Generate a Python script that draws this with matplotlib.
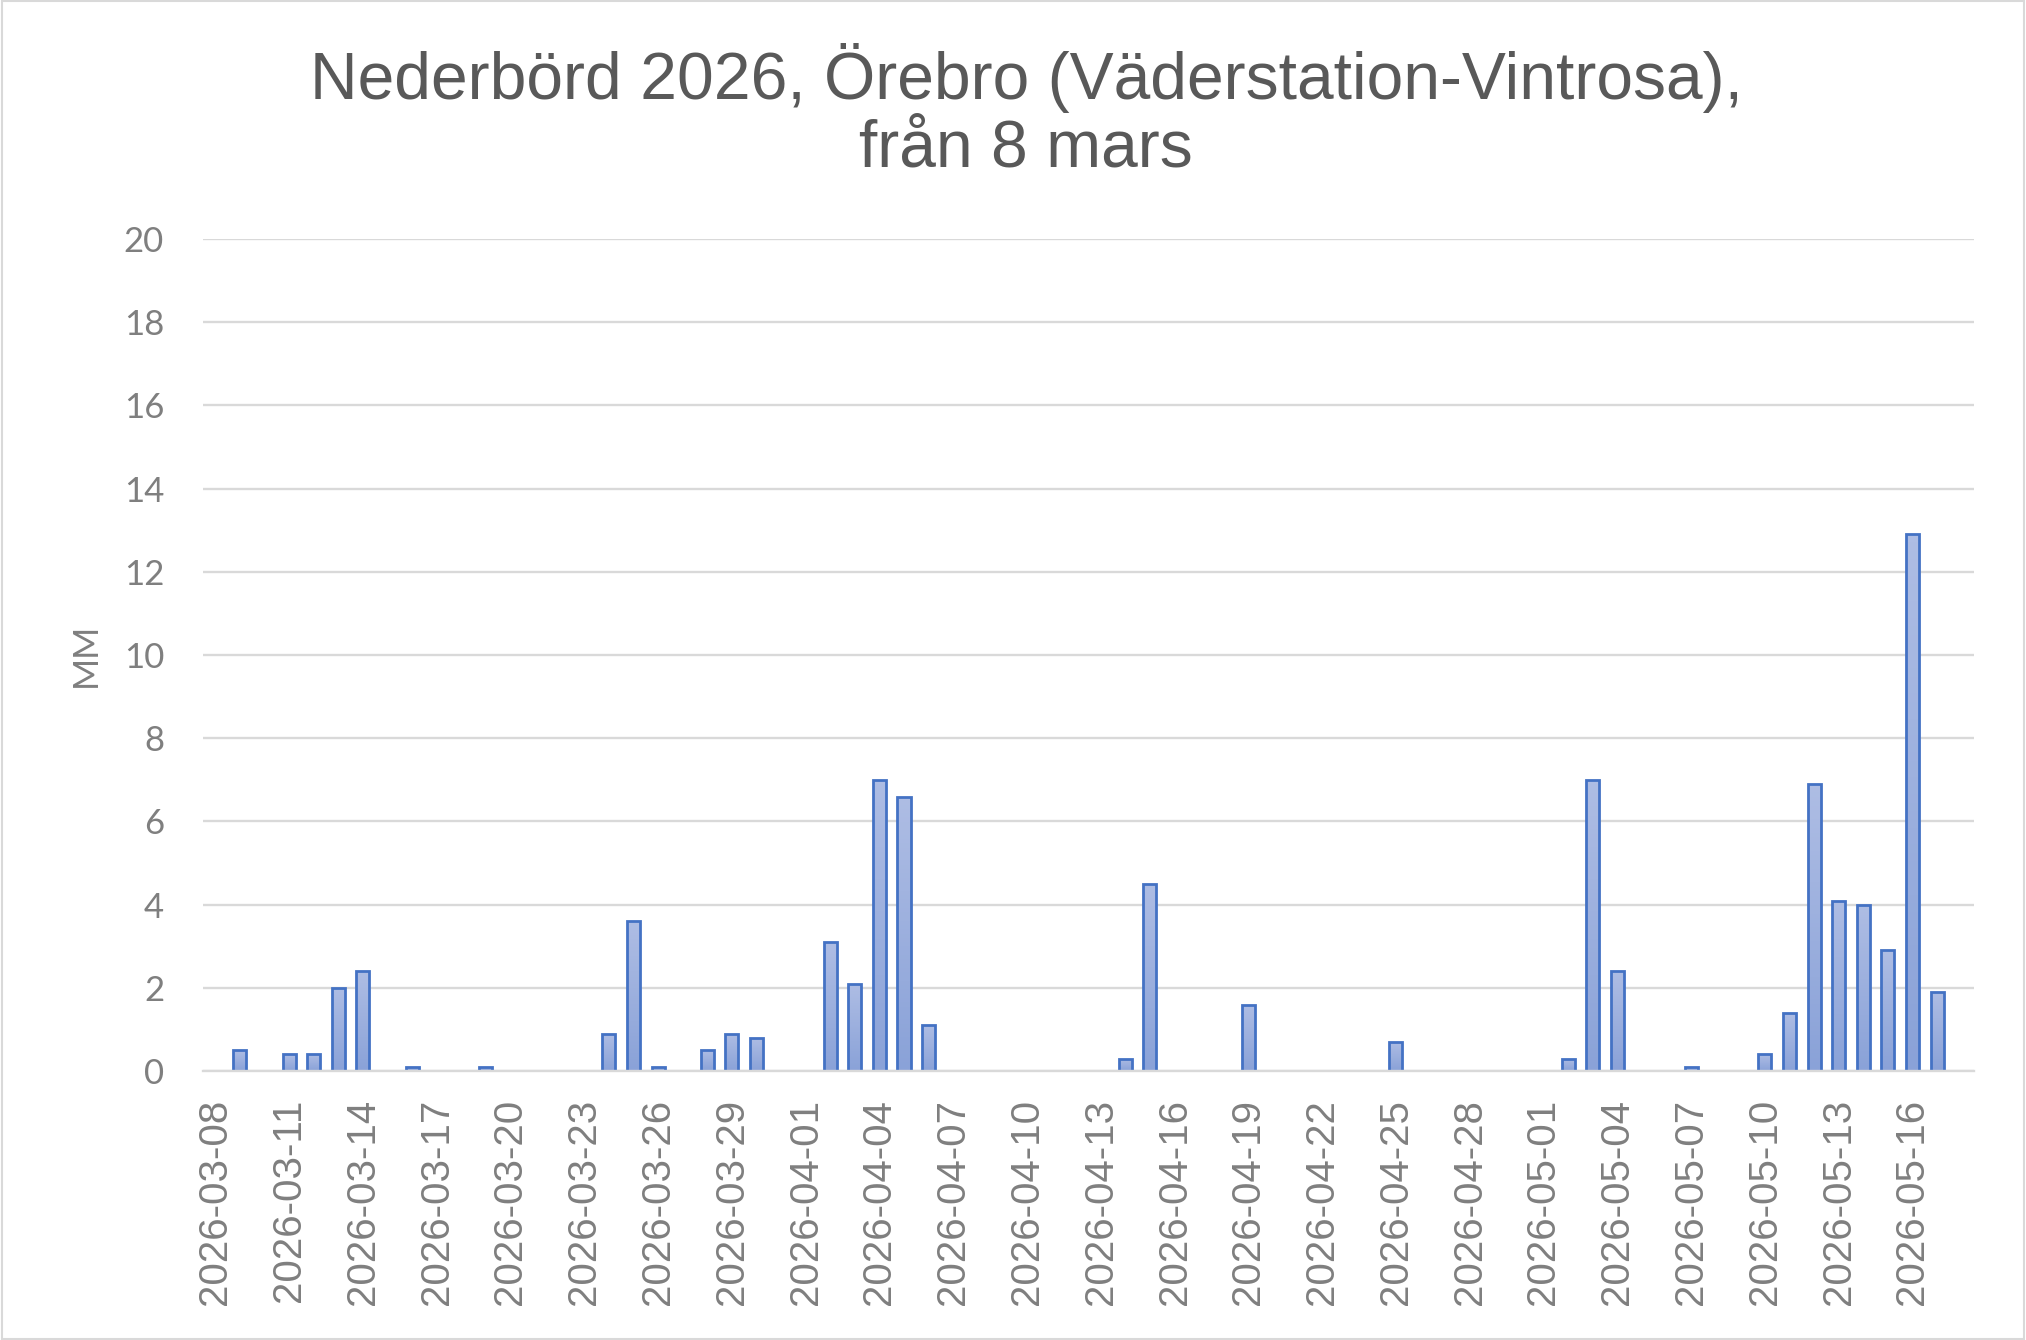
import numpy as np
import pandas as pd
import matplotlib
matplotlib.use("Agg")
import matplotlib.pyplot as plt
from matplotlib.colors import LinearSegmentedColormap
from matplotlib.patches import Rectangle

# daily precipitation (mm), 2026-03-08 .. 2026-05-18
dates = pd.date_range("2026-03-08", "2026-05-18", freq="D")
labels = [d.strftime("%Y-%m-%d") for d in dates]
rain_days = ["2026-03-09", "2026-03-11", "2026-03-12", "2026-03-13", "2026-03-14",
             "2026-03-16", "2026-03-19", "2026-03-24", "2026-03-25", "2026-03-26",
             "2026-03-28", "2026-03-29", "2026-03-30", "2026-04-02", "2026-04-03",
             "2026-04-04", "2026-04-05", "2026-04-06", "2026-04-14", "2026-04-15",
             "2026-04-19", "2026-04-25", "2026-05-02", "2026-05-03", "2026-05-04",
             "2026-05-07", "2026-05-10", "2026-05-11", "2026-05-12", "2026-05-13",
             "2026-05-14", "2026-05-15", "2026-05-16", "2026-05-17"]
rain_mm = [0.5, 0.4, 0.4, 2.0, 2.4,
           0.1, 0.1, 0.9, 3.6, 0.1,
           0.5, 0.9, 0.8, 3.1, 2.1,
           7.0, 6.6, 1.1, 0.3, 4.5,
           1.6, 0.7, 0.3, 7.0, 2.4,
           0.1, 0.4, 1.4, 6.9, 4.1,
           4.0, 2.9, 12.9, 1.9]

values = np.zeros(len(labels))
for d, v in zip(rain_days, rain_mm):
    values[labels.index(d)] = v

fig = plt.figure(figsize=(20.26, 13.40), dpi=100)
ax = fig.add_axes([0.1002, 0.2007, 0.8741, 0.6209])

x = np.arange(len(labels))
bars = ax.bar(x, values, width=0.53, facecolor="none", edgecolor="#4472C4",
              linewidth=2.0, zorder=3)

# gradient fill inside each bar
cmap = LinearSegmentedColormap.from_list("g", ["#8AA2D8", "#AEBDE4"])
grad = np.linspace(0, 1, 64).reshape(-1, 1)
for b in bars:
    h = b.get_height()
    if h <= 0:
        continue
    x0 = b.get_x()
    im = ax.imshow(grad, extent=[x0, x0 + b.get_width(), 0, h], origin="lower",
                   aspect="auto", cmap=cmap, zorder=2.5)
    im.set_clip_path(b)

ax.set_xlim(-0.5, len(labels) - 0.5)
ax.set_ylim(0, 20)
ax.set_yticks(np.arange(0, 21, 2))
ax.set_xticks(x[::3])
ax.set_xticklabels(labels[::3], rotation=90, family="Liberation Sans",
                   fontsize=29, color="#7F7F7F")
for t in ax.get_yticklabels():
    t.set_family("Lato")
    t.set_fontsize(25)
    t.set_color("#7F7F7F")
ax.tick_params(axis="x", length=0, pad=20)
ax.tick_params(axis="y", length=0, pad=28)

ax.grid(axis="y", color="#D9D9D9", linewidth=1.7, zorder=0)
for s in ["top", "right", "left"]:
    ax.spines[s].set_visible(False)
ax.spines["bottom"].set_color("#D9D9D9")
ax.spines["bottom"].set_linewidth(1.7)
ax.spines["bottom"].set_zorder(4)

ax.set_ylabel("MM", family="Lato", fontsize=25, color="#7F7F7F", labelpad=16)

fig.text(0.5064, 1 - 112 / 1340, "Nederbörd 2026, Örebro (Väderstation-Vintrosa),\nfrån 8 mars",
         ha="center", va="center", fontsize=47.5, color="#595959",
         family="Liberation Sans", linespacing=1.12)

fig.patches.append(Rectangle((0.001, 0.001), 0.998, 0.998, transform=fig.transFigure,
                             fill=False, edgecolor="#D9D9D9", linewidth=1.5))

fig.savefig("out.png", dpi=100, facecolor="white")
